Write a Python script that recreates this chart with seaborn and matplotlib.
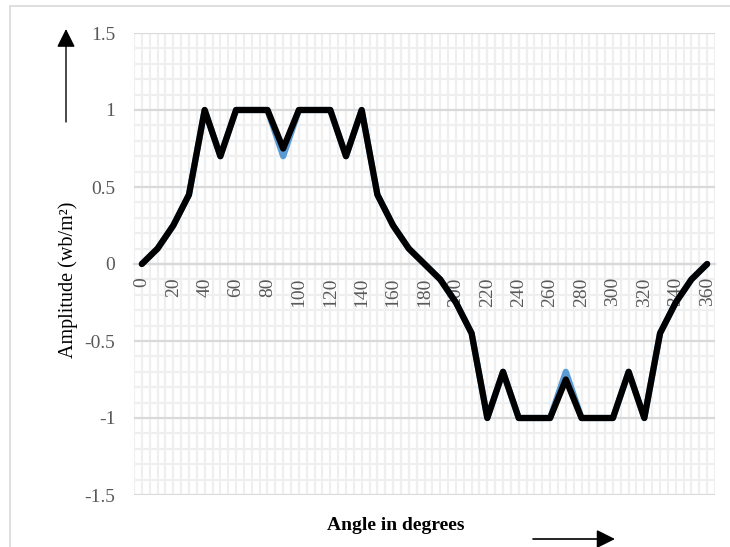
import matplotlib
matplotlib.use("Agg")
import matplotlib.pyplot as plt
from matplotlib.ticker import FixedLocator, FixedFormatter
from matplotlib.patches import Rectangle
import seaborn as sns
import pandas as pd
import numpy as np

# ---- data ----
angles = [0, 10, 20, 30, 40, 50, 60, 70, 80, 90, 100, 110, 120, 130, 140, 150, 160, 170, 180,
          190, 200, 210, 220, 230, 240, 250, 260, 270, 280, 290, 300, 310, 320, 330, 340, 350, 360]
series_blue = [0, 0.1, 0.25, 0.45, 1, 0.7, 1, 1, 1, 0.7, 1, 1, 1, 0.7, 1, 0.45, 0.25, 0.1, 0,
               -0.1, -0.25, -0.45, -1, -0.7, -1, -1, -1, -0.7, -1, -1, -1, -0.7, -1, -0.45, -0.25, -0.1, 0]
series_black = [0, 0.1, 0.25, 0.45, 1, 0.7, 1, 1, 1, 0.75, 1, 1, 1, 0.7, 1, 0.45, 0.25, 0.1, 0,
                -0.1, -0.25, -0.45, -1, -0.7, -1, -1, -1, -0.75, -1, -1, -1, -0.7, -1, -0.45, -0.25, -0.1, 0]
x_tick_values = list(range(0, 361, 20))
x_tick_labels = [str(v) for v in x_tick_values]
y_tick_values = [-1.5, -1, -0.5, 0, 0.5, 1, 1.5]
y_tick_labels = ["-1.5", "-1", "-0.5", "0", "0.5", "1", "1.5"]
x_title = "Angle in degrees"
y_title = "Amplitude (wb/m\u00b2)"

sns.set_style("white")
plt.rcParams["font.family"] = ["Liberation Serif", "DejaVu Serif"]

W, H = 730, 547
fig = plt.figure(figsize=(W / 100, H / 100), dpi=100)
left, right, top, bottom = 134, 715, 33, 495
ax = fig.add_axes([left / W, 1 - bottom / H, (right - left) / W, (bottom - top) / H])

xmin, xmax, ymin, ymax = -5, 365, -1.5, 1.5

# gridlines (drawn as plain lines so they stay beneath the tick labels)
minor_x = np.arange(xmin, xmax + 0.1, 5)
minor_y = np.round(np.arange(ymin, ymax + 0.01, 0.1), 2)
major_y = np.array(y_tick_values)
ax.vlines(minor_x, ymin, ymax, colors="#EFEFEF", linewidth=1.6, zorder=0.1)
ax.hlines([v for v in minor_y if not np.isclose(v % 0.5, 0) and not np.isclose(v % 0.5, 0.5)],
          xmin, xmax, colors="#EFEFEF", linewidth=1.6, zorder=0.15)
ax.hlines(major_y, xmin, xmax, colors="#D9D9D9", linewidth=1.6, zorder=0.2)

df = pd.DataFrame({"angle": angles, "blue": series_blue, "black": series_black})
lw = 4.5
sns.lineplot(data=df, x="angle", y="blue", ax=ax, color="#5B9BD5", linewidth=lw,
             solid_joinstyle="round", solid_capstyle="round", zorder=3)
sns.lineplot(data=df, x="angle", y="black", ax=ax, color="black", linewidth=lw,
             solid_joinstyle="round", solid_capstyle="round", zorder=4)

ax.set_xlim(xmin, xmax)
ax.set_ylim(ymin, ymax)
ax.grid(False)

ax.xaxis.set_major_locator(FixedLocator(x_tick_values))
ax.xaxis.set_major_formatter(FixedFormatter(x_tick_labels))
ax.yaxis.set_major_locator(FixedLocator(y_tick_values))
ax.yaxis.set_major_formatter(FixedFormatter(y_tick_labels))
ax.minorticks_off()

for s in ["left", "right", "top"]:
    ax.spines[s].set_visible(False)
ax.spines["bottom"].set_position(("data", 0))
ax.spines["bottom"].set_color("#D9D9D9")
ax.spines["bottom"].set_linewidth(1.6)
ax.spines["bottom"].set_zorder(0.3)

ax.tick_params(axis="x", which="both", length=0, pad=9.5, labelrotation=90,
               labelsize=14, labelcolor="#595959")
ax.tick_params(axis="y", which="both", length=0, pad=13.5, labelsize=14, labelcolor="#595959")
ax.set_xlabel("")
ax.set_ylabel("")

# axis titles
fig.text(68 / W, 1 - 280 / H, y_title, rotation=90, ha="center", va="center",
         fontsize=14.5, color="black")
fig.text(396 / W, 1 - 525 / H, x_title, ha="center", va="center",
         fontsize=14, fontweight="bold", color="black")

# arrows
ax.annotate("", xy=(66 / W, 1 - 29 / H), xycoords="figure fraction",
            xytext=(66 / W, 1 - 122 / H), textcoords="figure fraction",
            arrowprops=dict(arrowstyle="-|>,head_length=0.8,head_width=0.4",
                            color="black", lw=1.0, mutation_scale=14, shrinkA=0, shrinkB=0),
            annotation_clip=False)
ax.annotate("", xy=(615 / W, 1 - 539 / H), xycoords="figure fraction",
            xytext=(533 / W, 1 - 539 / H), textcoords="figure fraction",
            arrowprops=dict(arrowstyle="-|>,head_length=0.8,head_width=0.4",
                            color="black", lw=1.2, mutation_scale=14, shrinkA=0, shrinkB=0),
            annotation_clip=False)

# chart outer border
fig.add_artist(Rectangle((10 / W, -0.05), 1.2, 1 - 6 / H + 0.05, transform=fig.transFigure,
                         fill=False, edgecolor="#D9D9D9", linewidth=1.2))

fig.savefig("out.png", dpi=100)
